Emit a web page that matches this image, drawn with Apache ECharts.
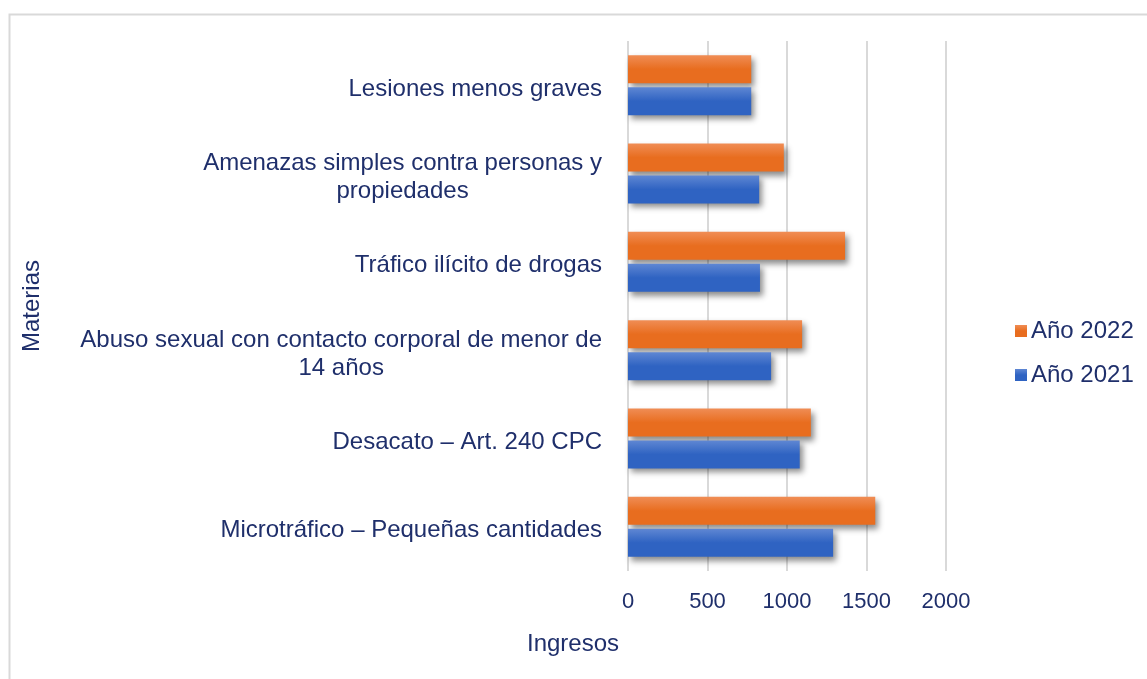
<!DOCTYPE html>
<html><head><meta charset="utf-8">
<script src="https://cdn.jsdelivr.net/npm/echarts@6/dist/echarts.min.js"></script>
<style>html,body{margin:0;padding:0;background:#fff}#c{width:1147px;height:679px}</style>
</head><body><div id="c"></div>
<script>
const categories = [
  'Microtráfico – Pequeñas cantidades',
  'Desacato – Art. 240 CPC',
  'Abuso sexual con contacto corporal de menor de\n14 años',
  'Tráfico ilícito de drogas',
  'Amenazas simples contra personas y\npropiedades',
  'Lesiones menos graves'
];
const values2021 = [1290, 1080, 900, 830, 825, 775];
const values2022 = [1555, 1150, 1095, 1365, 980, 775];
const xTicks = [0, 500, 1000, 1500, 2000];

const navy = '#1f2f6b';
const font = 'Liberation Sans, Arial, sans-serif';
const chart = echarts.init(document.getElementById('c'));
function grad(a, b) {
  return new echarts.graphic.LinearGradient(0, 0, 0, 1, [{offset: 0, color: a}, {offset: 0.5, color: b}, {offset: 1, color: b}]);
}
const barBase = {
  type: 'bar', barWidth: 28, barGap: '14%',
  itemStyle: {shadowBlur: 6, shadowOffsetX: 3, shadowOffsetY: 4, shadowColor: 'rgba(0,0,0,0.45)'}
};
chart.setOption({
  animation: false,
  backgroundColor: '#fff',
  textStyle: {fontFamily: font},
  graphic: [
    {type: 'rect', left: 7, top: 12, shape: {width: 1160, height: 700}, style: {fill: 'none', stroke: '#d9d9d9', lineWidth: 2}, z: -1},
    {type: 'text', left: 527, top: 632, style: {text: 'Ingresos', fill: navy, font: '24px ' + font}},
    {type: 'text', x: 20, y: 352, rotation: Math.PI / 2, style: {text: 'Materias', fill: navy, font: '24px ' + font, textAlign: 'left', textVerticalAlign: 'top'}}
  ],
  legend: {
    orient: 'vertical', left: 1010, top: 314, itemWidth: 12, itemHeight: 12, itemGap: 20,
    icon: 'rect',
    data: ['Año 2022', 'Año 2021'],
    textStyle: {color: navy, fontSize: 24, fontFamily: font, padding: [0, 0, 0, -1]}
  },
  grid: {left: 628, right: 201, top: 41, bottom: 108, containLabel: false},
  xAxis: {
    type: 'value', min: 0, max: 2000, interval: 500,
    axisLine: {show: false}, axisTick: {show: false},
    splitLine: {lineStyle: {color: '#d9d9d9', width: 2}},
    axisLabel: {color: navy, fontSize: 22, fontFamily: font, margin: 20,
      formatter: v => xTicks.includes(v) ? String(v) : ''}
  },
  yAxis: {
    type: 'category', data: categories,
    axisLine: {show: false}, axisTick: {show: false},
    axisLabel: {
      color: navy, fontSize: 24, fontFamily: font, margin: 26, align: 'right', lineHeight: 28,
      padding: [8, 0, 0, 0],
      formatter: v => v.split('\n').map(l => '{c|' + l + '}').join('\n'),
      rich: {c: {align: 'center', color: navy, fontSize: 24, fontFamily: font, lineHeight: 28}}
    }
  },
  series: [
    Object.assign({}, barBase, {name: 'Año 2022', data: values2022,
      itemStyle: Object.assign({}, barBase.itemStyle, {color: grad('#f08d55', '#e86d1f')})}),
    Object.assign({}, barBase, {name: 'Año 2021', data: values2021,
      itemStyle: Object.assign({}, barBase.itemStyle, {color: grad('#5f87d3', '#2f63c2')})})
  ]
});
</script></body></html>
